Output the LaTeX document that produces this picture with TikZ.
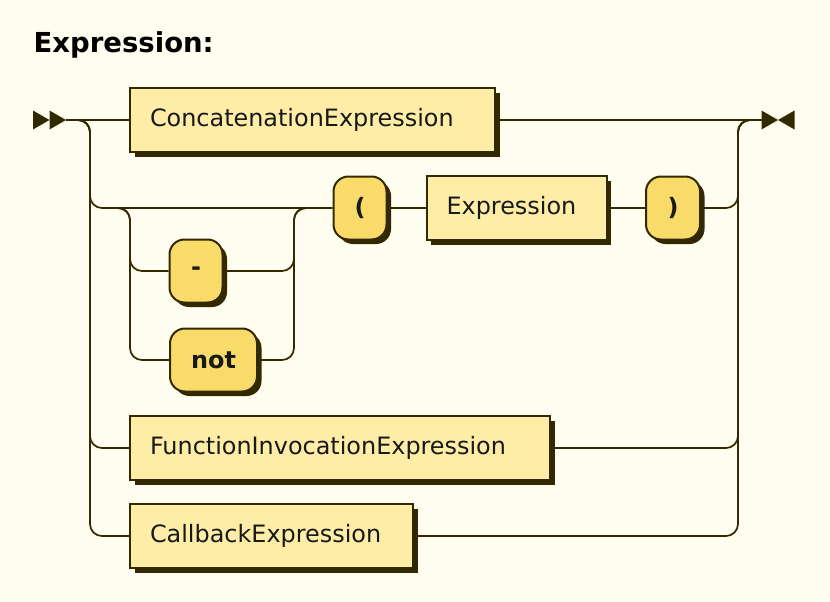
\documentclass[tikz,border=0pt]{standalone}
\usepackage{fontspec}
\setmainfont{DejaVu Sans}
\usetikzlibrary{shadows}
\definecolor{bg}{HTML}{FFFDF0}
\definecolor{ink}{HTML}{332900}
\definecolor{ntfill}{HTML}{FEEDA6}
\definecolor{tfill}{HTML}{F9DB6A}
\tikzset{
  rr/.style={draw=ink, line width=1.7pt, rounded corners=12pt},
  boxshadow/.style={drop shadow={shadow xshift=4.5pt, shadow yshift=-4.5pt, fill=ink, opacity=1}},
  nt/.style={draw=ink, line width=2pt, fill=ntfill, boxshadow, rectangle,
    minimum height=64pt, inner xsep=20pt, inner ysep=0pt, align=left,
    font=\fontsize{23.9}{28}\selectfont, text=black!90},
  term/.style={draw=ink, line width=2pt, fill=tfill, boxshadow, rectangle,
    rounded corners=15pt, minimum height=63pt, inner xsep=0pt, inner ysep=0pt,
    font=\fontsize{23.9}{28}\selectfont\bfseries, text=black!90},
  arrowtri/.style={fill=ink, draw=none}
}
\begin{document}
\begin{tikzpicture}[x=1pt, y=-1pt]
\useasboundingbox[fill=bg] (0,0) rectangle (830,602);

\node[anchor=base west, font=\fontsize{27.5}{32}\selectfont\bfseries, inner sep=0pt] (title) at (33.5,52.5) {Expression:};

% junction coordinates
\coordinate (s) at (66,120);
\coordinate (e) at (762,120);
\coordinate (L1) at (90,120);
\coordinate (R1) at (738,120);
\coordinate (L2) at (130,208);
\coordinate (R2) at (294,208);

% nodes
\node[nt, text width=325pt, minimum width=365pt] (concat) at (312.5,120) {ConcatenationExpression};
\node[term, minimum width=53pt] (lp) at (360,208) {(};
\node[nt, text width=140pt, minimum width=180pt] (expr) at (516.5,208) {Expression};
\node[term, minimum width=54pt] (rp) at (673,208) {)};
\node[term, minimum width=53pt] (minus) at (196,271) {-};
\node[term, minimum width=87pt] (not) at (213.5,360) {not};
\node[nt, text width=380pt, minimum width=420pt] (fi) at (340,448) {FunctionInvocationExpression};
\node[nt, text width=243pt, minimum width=283pt] (cb) at (271.5,536) {CallbackExpression};

% start / end markers
\fill[arrowtri] (33,110.5) -- (49.5,120) -- (33,129.5) -- cycle;
\fill[arrowtri] (49.5,110.5) -- (66,120) -- (49.5,129.5) -- cycle;
\fill[arrowtri] (761.5,110.5) -- (778,120) -- (761.5,129.5) -- cycle;
\fill[arrowtri] (794.5,110.5) -- (778,120) -- (794.5,129.5) -- cycle;

% connectors
\draw[rr] (s) -- (concat.west);
\draw[rr] (concat.east) -- (e);

\draw[rr] (s) -- (L1) |- (lp.west);
\draw[rr] (lp.east) -- (expr.west);
\draw[rr] (expr.east) -- (rp.west);
\draw[rr] (rp.east) -| (R1) -- (e);

\draw[rr] (L2) ++(-12,0) -- (L2) |- (minus.west);
\draw[rr] (minus.east) -| (R2) -- ++(12,0);
\draw[rr] (L2) ++(-12,0) -- (L2) |- (not.west);
\draw[rr] (not.east) -| (R2) -- ++(12,0);

\draw[rr] (s) -- (L1) |- (fi.west);
\draw[rr] (fi.east) -| (R1) -- (e);
\draw[rr] (s) -- (L1) |- (cb.west);
\draw[rr] (cb.east) -| (R1) -- (e);
\end{tikzpicture}
\end{document}
